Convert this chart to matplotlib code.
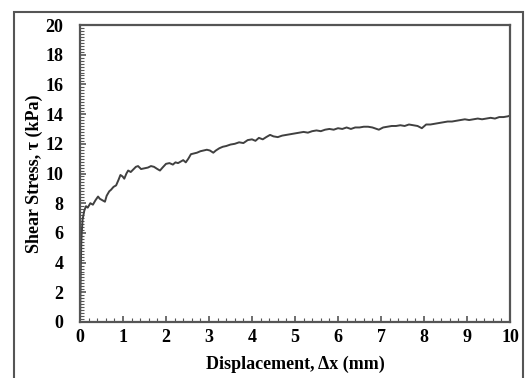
import matplotlib
matplotlib.use("Agg")
import matplotlib.pyplot as plt
from matplotlib.patches import Rectangle
from matplotlib.ticker import MultipleLocator

displacement_mm = [0.0, 0.01, 0.02, 0.03, 0.04, 0.05, 0.06, 0.08, 0.1, 0.14, 0.18, 0.24, 0.3, 0.36, 0.42, 0.46,
                   0.52, 0.58, 0.62, 0.68, 0.72, 0.78, 0.84, 0.9, 0.94, 0.99, 1.03, 1.08, 1.12, 1.18, 1.25,
                   1.3, 1.35, 1.42, 1.5, 1.58, 1.65, 1.72, 1.8, 1.86, 1.92, 2.0, 2.08, 2.16, 2.22, 2.28,
                   2.34, 2.4, 2.46, 2.52, 2.58, 2.65, 2.72, 2.8, 2.88, 2.95, 3.02, 3.1, 3.16, 3.24, 3.32,
                   3.4, 3.5, 3.6, 3.7, 3.8, 3.9, 4.0, 4.08, 4.16, 4.25, 4.33, 4.42, 4.5, 4.6, 4.7, 4.8,
                   4.9, 5.0, 5.1, 5.2, 5.3, 5.4, 5.5, 5.6, 5.7, 5.8, 5.9, 6.0, 6.1, 6.2, 6.3, 6.4, 6.5,
                   6.6, 6.7, 6.8, 6.9, 6.95, 7.05, 7.15, 7.25, 7.35, 7.45, 7.55, 7.65, 7.75, 7.85, 7.95,
                   8.05, 8.15, 8.25, 8.35, 8.45, 8.55, 8.65, 8.75, 8.85, 8.95, 9.05, 9.15, 9.25, 9.35,
                   9.45, 9.55, 9.65, 9.75, 9.85, 9.95, 10.0]
shear_stress_kpa = [0.0, 2.0, 4.0, 5.3, 6.0, 6.5, 6.9, 7.2, 7.5, 7.8, 7.7, 8.0, 7.9, 8.2, 8.45, 8.3,
                    8.2, 8.1, 8.5, 8.8, 8.9, 9.1, 9.2, 9.6, 9.9, 9.8, 9.65, 10.0, 10.2, 10.1, 10.3,
                    10.45, 10.5, 10.3, 10.35, 10.4, 10.5, 10.45, 10.3, 10.2, 10.4, 10.65, 10.7, 10.6, 10.75, 10.7,
                    10.8, 10.9, 10.75, 11.0, 11.3, 11.35, 11.4, 11.5, 11.55, 11.6, 11.55, 11.4, 11.55, 11.7, 11.8,
                    11.85, 11.95, 12.0, 12.1, 12.05, 12.25, 12.3, 12.2, 12.4, 12.3, 12.45, 12.6, 12.5, 12.45, 12.55, 12.6,
                    12.65, 12.7, 12.75, 12.8, 12.75, 12.85, 12.9, 12.85, 12.95, 13.0, 12.95, 13.05, 13.0, 13.1, 13.0, 13.1, 13.1,
                    13.15, 13.15, 13.1, 13.0, 12.95, 13.1, 13.15, 13.2, 13.2, 13.25, 13.2, 13.3, 13.25, 13.2, 13.05,
                    13.3, 13.3, 13.35, 13.4, 13.45, 13.5, 13.5, 13.55, 13.6, 13.65, 13.6, 13.65, 13.7, 13.65,
                    13.7, 13.75, 13.7, 13.8, 13.8, 13.85, 13.9]

x_ticks = list(range(0, 11))
y_ticks = list(range(0, 21, 2))
x_label = "Displacement, \u0394x (mm)"
y_label = "Shear Stress, \u03c4 (kPa)"

plt.rcParams['font.family'] = ['Liberation Serif', 'DejaVu Serif']
fig = plt.figure(figsize=(5.29, 3.78), dpi=100)
ax = fig.add_axes([80/529, 1-322/378, 430/529, 297/378])

ax.plot(displacement_mm, shear_stress_kpa, color='#404040', lw=1.4)
ax.set_xlim(0, 10)
ax.set_ylim(0, 20)
ax.set_xticks(x_ticks)
ax.set_yticks(y_ticks)
ax.xaxis.set_minor_locator(MultipleLocator(0.2))
ax.yaxis.set_minor_locator(MultipleLocator(0.2))
ax.tick_params(which='both', direction='in', top=False, right=False, color='#555555')
ax.tick_params(axis='x', which='major', length=4, width=1.2, labelsize=13, pad=5)
ax.tick_params(axis='y', which='major', length=4, width=1.2, labelsize=13, pad=12)
ax.tick_params(which='minor', length=3, width=0.8)
for lab in ax.get_xticklabels() + ax.get_yticklabels():
    lab.set_fontweight('bold')
for s in ax.spines.values():
    s.set_color('#555555')
    s.set_linewidth(1.6)
ax.set_xlabel(x_label, fontsize=13, fontweight='bold', labelpad=7)
ax.set_ylabel(y_label, fontsize=13, fontweight='bold', labelpad=2)

fig.patches.append(Rectangle((14/529, -0.05), (523-14)/529, 0.05 + (378-12)/378,
                             transform=fig.transFigure, fill=False, edgecolor='#555555', lw=1.5))

fig.savefig("out.png", dpi=100)
